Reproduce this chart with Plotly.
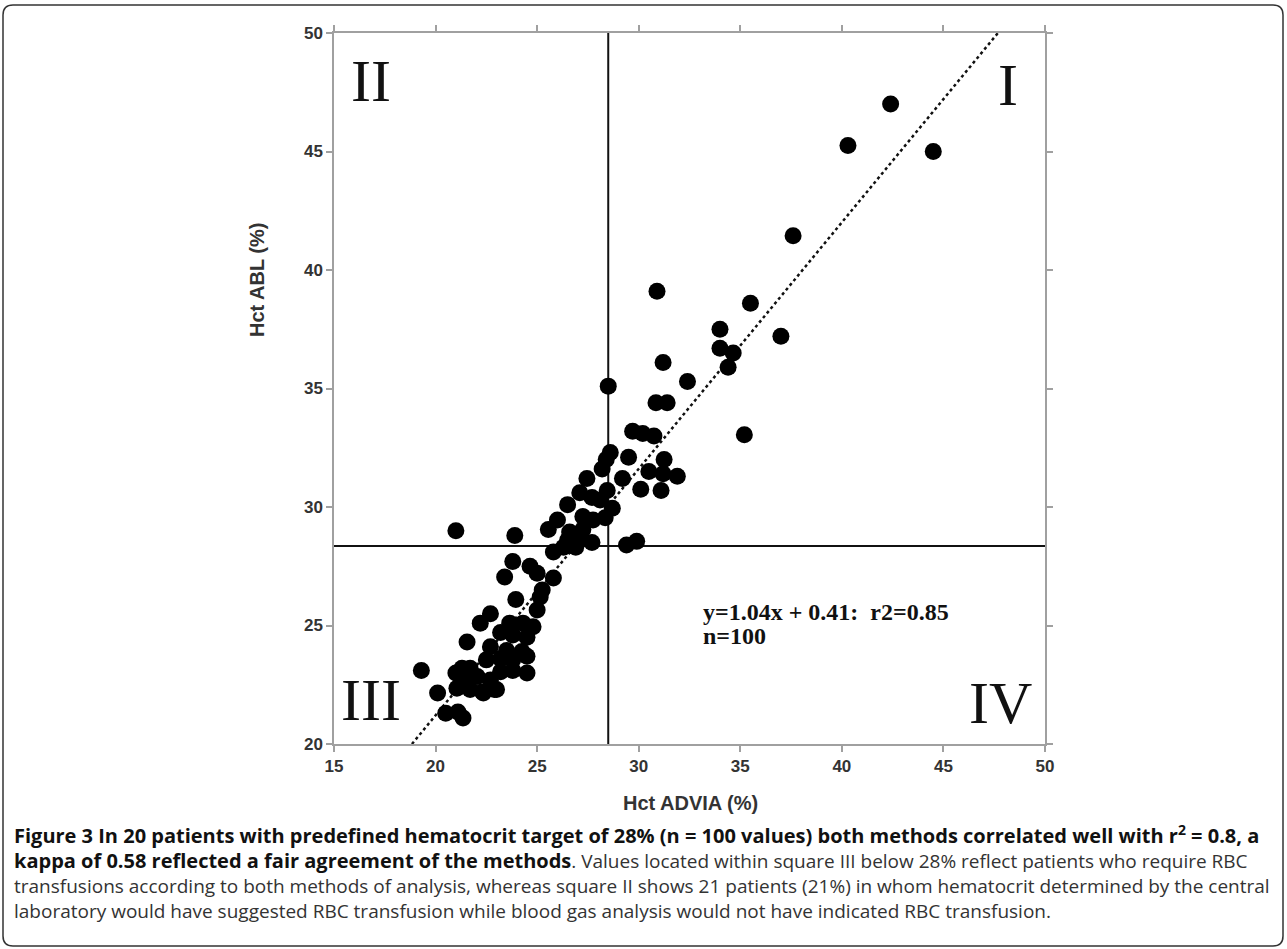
import plotly.graph_objects as go

# Data (Hct ADVIA %, Hct ABL %)
hct_advia = [
    42.4, 40.3, 44.5, 37.6, 30.9, 35.5, 37.0, 34.0, 34.0, 34.65,
    34.4, 31.2, 32.4, 28.5, 30.85, 31.4, 29.7, 30.2, 30.75, 35.2,
    28.6, 28.4, 28.2, 29.5, 31.25, 30.5, 31.2, 31.9, 27.45, 29.2,
    30.1, 31.1, 28.45, 27.1, 27.7, 28.1, 26.5, 28.7, 27.25, 27.75,
    28.35, 26.0, 25.55, 26.6, 27.25, 27.1, 27.7, 26.5, 23.9, 21.0,
    25.8, 26.3, 26.9, 29.4, 29.9, 23.8, 24.65, 23.4, 25.0, 25.8,
    25.25, 25.15, 23.95, 25.0, 22.7, 22.2, 21.55, 23.65, 24.3, 24.8,
    23.2, 23.8, 24.5, 22.7, 23.5, 24.25, 22.5, 23.2, 23.8, 24.5,
    23.2, 23.8, 24.5, 21.7, 22.05, 22.7, 21.45, 22.35, 23.0, 21.0,
    21.3, 21.05, 21.7, 22.3, 19.3, 20.1, 20.5, 21.1, 21.35, 22.9,
]
hct_abl = [
    47.0, 45.25, 45.0, 41.45, 39.1, 38.6, 37.2, 37.5, 36.7, 36.5,
    35.9, 36.1, 35.3, 35.1, 34.4, 34.4, 33.2, 33.1, 33.0, 33.05,
    32.3, 32.0, 31.6, 32.1, 32.0, 31.5, 31.4, 31.3, 31.2, 31.2,
    30.75, 30.7, 30.7, 30.6, 30.4, 30.3, 30.1, 29.95, 29.6, 29.45,
    29.55, 29.45, 29.05, 28.95, 29.05, 28.7, 28.5, 28.6, 28.8, 29.0,
    28.1, 28.3, 28.3, 28.4, 28.55, 27.7, 27.5, 27.05, 27.2, 27.0,
    26.5, 26.2, 26.1, 25.65, 25.5, 25.1, 24.3, 25.1, 25.1, 24.95,
    24.7, 24.6, 24.5, 24.1, 23.95, 23.9, 23.55, 23.6, 23.55, 23.7,
    23.05, 23.1, 23.0, 23.2, 22.85, 22.7, 22.6, 22.15, 22.3, 23.0,
    23.2, 22.35, 22.3, 22.2, 23.1, 22.15, 21.3, 21.35, 21.1, 22.3,
]

# Regression y = slope*x + intercept, and the threshold lines
slope = 1.04
intercept = 0.41
x_threshold = 28.5
y_threshold = 28.35
axis_min = 15
axis_max = 50
y_axis_min = 20
tick_vals = [15, 20, 25, 30, 35, 40, 45, 50]
y_tick_vals = [20, 25, 30, 35, 40, 45, 50]

reg_x = [(y_axis_min - intercept) / slope, (axis_max - intercept) / slope]
reg_y = [slope * v + intercept for v in reg_x]

fig = go.Figure()

# Threshold lines
fig.add_trace(go.Scatter(x=[axis_min, axis_max], y=[y_threshold, y_threshold],
                         mode="lines", line=dict(color="#111", width=2),
                         hoverinfo="skip", showlegend=False))
fig.add_trace(go.Scatter(x=[x_threshold, x_threshold], y=[y_axis_min, axis_max],
                         mode="lines", line=dict(color="#111", width=2),
                         hoverinfo="skip", showlegend=False))
# Regression line
fig.add_trace(go.Scatter(x=reg_x, y=reg_y, mode="lines",
                         line=dict(color="#111", width=2.5, dash="dot"),
                         hoverinfo="skip", showlegend=False))
# Points
fig.add_trace(go.Scatter(x=hct_advia, y=hct_abl, mode="markers",
                         marker=dict(color="#000", size=17, line=dict(width=0)),
                         showlegend=False))

L, R, T, B = 334, 242, 33, 205
W, H = 1287, 949
PW = W - L - R
PH = H - T - B


def px(xp):
    return (xp - L) / PW


def py(yp):
    return (H - B - yp) / PH


axis_common = dict(showgrid=False, zeroline=False, showline=True, linecolor="#a0a0a0",
                   linewidth=1.5, mirror="ticks", ticks="outside", ticklen=6,
                   tickcolor="#a0a0a0", tickwidth=1.5,
                   tickfont=dict(family="Liberation Sans", size=17, color="#333", weight="bold"))

fig.update_xaxes(range=[axis_min, axis_max], tickvals=tick_vals, **axis_common)
fig.update_yaxes(range=[y_axis_min, axis_max], tickvals=y_tick_vals, **axis_common)

serif = "Liberation Serif"
ann = []
# Quadrant labels
ann.append(dict(text="II", x=px(371), y=py(81), font=dict(family=serif, size=60, color="#111")))
ann.append(dict(text="I", x=px(1008), y=py(85), font=dict(family=serif, size=60, color="#111")))
ann.append(dict(text="III", x=px(371), y=py(700), font=dict(family=serif, size=60, color="#111")))
ann.append(dict(text="IV", x=px(1000), y=py(703), font=dict(family=serif, size=60, color="#111")))
# Equation (one block, tight line spacing)
eq_text = ("<span style='font-size:24px'><b>y=1.04x + 0.41:  r2=0.85</b></span><br>"
           "<span style='font-size:24px'><b>n=100</b></span>")
ann.append(dict(text=eq_text, x=px(701), y=py(597), xanchor="left", yanchor="top", align="left",
                font=dict(family=serif, size=18.5, color="#111")))
# Axis titles
ann.append(dict(text="<b>Hct ABL (%)</b>", x=px(257), y=py(280), textangle=-90,
                font=dict(family="Liberation Sans", size=20, color="#333")))
ann.append(dict(text="<b>Hct ADVIA (%)</b>", x=px(690), y=py(803),
                font=dict(family="Liberation Sans", size=20, color="#333")))

# Caption (one block, 25 px line spacing)
cap_lines = [
    "<b><span style='font-size:20px;color:#111'>Figure 3 In 20 patients with predefined hematocrit target of 28% (n = 100 values) both methods correlated well with r<sup>2</sup> = 0.8, a</span></b>",
    "<b><span style='font-size:20px;color:#111'>kappa of 0.58 reflected a fair agreement of the methods</span></b>. Values located within square III below 28% reflect patients who require RBC",
    "transfusions according to both methods of analysis, whereas square II shows 21 patients (21%) in whom hematocrit determined by the central",
    "laboratory would have suggested RBC transfusion while blood gas analysis would not have indicated RBC transfusion.",
]
ann.append(dict(text="<br>".join(cap_lines), x=px(12), y=py(818), xanchor="left", yanchor="top",
                align="left", font=dict(family="Open Sans", size=19, color="#333")))

for a in ann:
    a.setdefault("xanchor", "center")
    a.setdefault("yanchor", "middle")
    a.update(xref="paper", yref="paper", showarrow=False)

# Outer rounded frame
x0, x1, y0, y1 = px(3), px(1283), py(946), py(5)
r = 10 / PW
path = (f"M {x0 + r},{y1} L {x1 - r},{y1} Q {x1},{y1} {x1},{y1 - r} "
        f"L {x1},{y0 + r} Q {x1},{y0} {x1 - r},{y0} L {x0 + r},{y0} "
        f"Q {x0},{y0} {x0},{y0 + r} L {x0},{y1 - r} Q {x0},{y1} {x0 + r},{y1} Z")

fig.update_layout(
    width=W, height=H,
    margin=dict(l=L, r=R, t=T, b=B),
    paper_bgcolor="white", plot_bgcolor="white",
    annotations=ann,
    shapes=[dict(type="path", path=path, xref="paper", yref="paper",
                 line=dict(color="#333", width=1.5), layer="below")],
    showlegend=False,
)

fig.write_html("out.html", config={"displayModeBar": False},
               post_script="document.body.style.margin='0';document.body.style.overflow='hidden';")
